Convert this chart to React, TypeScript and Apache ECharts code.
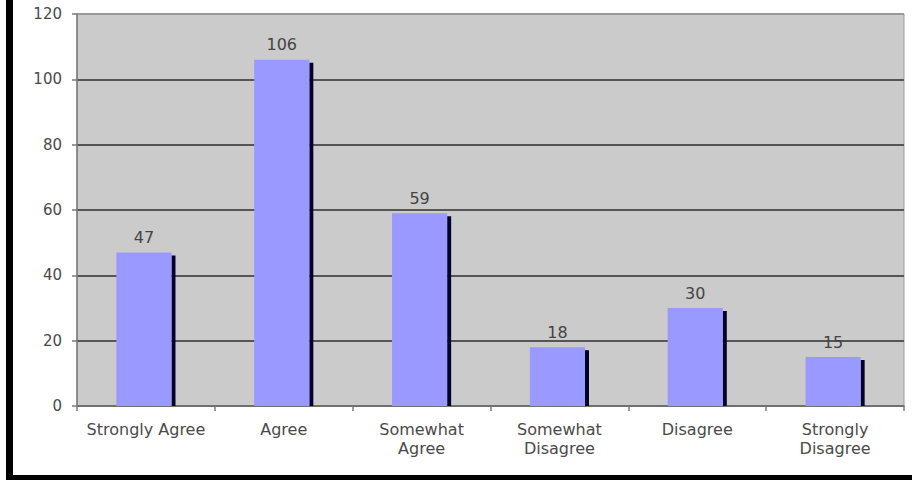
import React, { useEffect, useRef } from "react";
import * as echarts from "echarts";

// Survey responses per answer option
const categories: string[] = [
  "Strongly Agree",
  "Agree",
  "Somewhat\nAgree",
  "Somewhat\nDisagree",
  "Disagree",
  "Strongly\nDisagree",
];
const responses: number[] = [47, 106, 59, 18, 30, 15];
const yTicks: number[] = [0, 20, 40, 60, 80, 100, 120];

const FONT = "DejaVu Sans, Verdana, sans-serif";

export default function App() {
  const ref = useRef<HTMLDivElement>(null);

  useEffect(() => {
    if (!ref.current) return;
    const chart = echarts.init(ref.current, null, { renderer: "svg" });

    const yMin = yTicks[0];
    const yMax = yTicks[yTicks.length - 1];
    const yStep = yTicks[1] - yTicks[0];

    // dark grid lines, except the top one which blends into the plot border
    const gridColors = yTicks.map((t) => (t === yMax ? "#9a9a9a" : "#555555"));
    const gridWidths = yTicks.map((t) => (t === yMax ? 1 : 2));

    chart.setOption({
      animation: false,
      backgroundColor: "#ffffff",
      grid: {
        left: 77,
        right: 8,
        top: 14,
        bottom: 74,
        show: true,
        backgroundColor: "#cbcbcb",
        borderColor: "#9a9a9a",
        borderWidth: 1,
      },
      xAxis: {
        type: "category",
        data: categories,
        boundaryGap: true,
        axisLine: { show: true, lineStyle: { color: "#7a7a7a", width: 1.5 } },
        axisTick: {
          show: true,
          alignWithLabel: false,
          length: 5,
          lineStyle: { color: "#7a7a7a", width: 1.5 },
        },
        axisLabel: {
          interval: 0,
          margin: 14,
          fontFamily: FONT,
          fontSize: 16,
          lineHeight: 19,
          color: "#4a4a4a",
          align: "center",
        },
        splitLine: { show: false },
      },
      yAxis: {
        type: "value",
        min: yMin,
        max: yMax,
        interval: yStep,
        axisLine: { show: true, lineStyle: { color: "#7a7a7a", width: 1.5 } },
        axisTick: { show: true, length: 5, lineStyle: { color: "#7a7a7a", width: 1.5 } },
        axisLabel: {
          margin: 15,
          fontFamily: FONT,
          fontSize: 15,
          color: "#4a4a4a",
        },
        splitLine: { show: true, lineStyle: { color: gridColors, width: 2 } },
      },
      series: [
        {
          type: "custom",
          data: responses.map((v, i) => [i, v]),
          encode: { x: 0, y: 1 },
          renderItem: (params: any, api: any) => {
            const idx = api.value(0);
            const val = api.value(1);
            const topPt = api.coord([idx, val]);
            const basePt = api.coord([idx, 0]);
            const band = api.size([1, 0])[0];
            const faceW = band * 0.4;
            const edgeW = 4;
            const left = topPt[0] - (faceW + edgeW) / 2;
            const h = basePt[1] - topPt[1];
            return {
              type: "group",
              children: [
                {
                  type: "rect",
                  shape: { x: left + faceW, y: topPt[1] + 3, width: edgeW, height: h - 3 },
                  style: { fill: "#00002a" },
                },
                {
                  type: "rect",
                  shape: { x: left, y: topPt[1], width: faceW, height: h },
                  style: { fill: "#9999ff" },
                },
                {
                  type: "text",
                  x: left + faceW / 2,
                  y: topPt[1] - 15,
                  style: {
                    text: String(val),
                    fill: "#444444",
                    font: `16px ${FONT}`,
                    align: "center",
                    verticalAlign: "middle",
                  },
                },
              ],
            };
          },
        },
      ],
    });

    return () => chart.dispose();
  }, []);

  return (
    <div
      style={{
        position: "fixed",
        left: 0,
        top: 0,
        width: 912,
        height: 480,
        background: "#ffffff",
        overflow: "hidden",
      }}
    >
      <div ref={ref} style={{ position: "absolute", left: 0, top: 0, width: 912, height: 480 }} />
      <div
        style={{
          position: "absolute",
          left: 6,
          top: 0,
          width: 7,
          height: 480,
          background: "#000000",
        }}
      />
      <div
        style={{
          position: "absolute",
          left: 6,
          top: 475,
          width: 906,
          height: 5,
          background: "#000000",
        }}
      />
    </div>
  );
}
